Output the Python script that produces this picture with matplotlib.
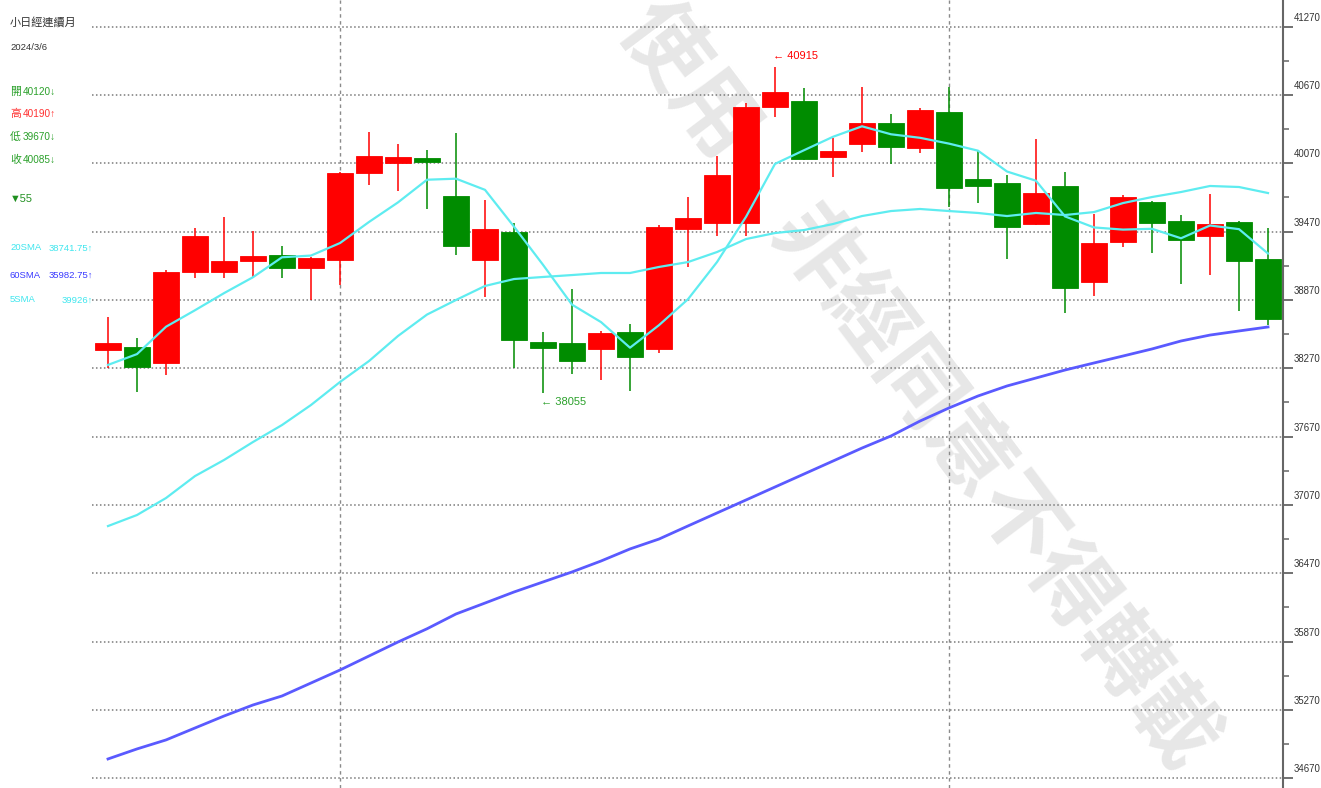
import matplotlib
matplotlib.use('Agg')
import matplotlib.pyplot as plt
import matplotlib.transforms as mtransforms
from matplotlib import font_manager
import numpy as np

# ---------------- data ----------------
opens = [38430, 38455, 38315, 39115, 39115, 39210, 39265, 39150, 39220, 39985,
         40075, 40120, 39785, 39220, 39465, 38500, 38490, 38440, 38590, 38440,
         39495, 39545, 39545, 40565, 40615, 40125, 40240, 40425, 40205, 40520,
         39930, 39895, 39535, 39870, 39030, 39380, 39730, 39565, 39430, 39555,
         39230]
highs = [38720, 38535, 39135, 39500, 39600, 39475, 39345, 39245, 39990, 40345,
         40240, 40190, 40335, 39750, 39545, 38590, 38965, 38600, 38660, 39530,
         39775, 40135, 40600, 40915, 40730, 40290, 40740, 40505, 40555, 40740,
         40180, 39965, 40285, 39995, 39625, 39790, 39735, 39615, 39800, 39560,
         39500]
lows = [38275, 38065, 38210, 39065, 39065, 39070, 39065, 38870, 39000, 39880,
        39825, 39670, 39265, 38895, 38275, 38055, 38220, 38165, 38070, 38405,
        39160, 39430, 39430, 40475, 40100, 39950, 40170, 40065, 40160, 39685,
        39720, 39230, 39530, 38755, 38905, 39335, 39280, 39010, 39090, 38775,
        38650]
closes = [38490, 38285, 39115, 39430, 39210, 39255, 39150, 39240, 39985, 40135,
          40125, 40085, 39345, 39495, 38520, 38450, 38335, 38580, 38370, 39510,
          39590, 39965, 40565, 40695, 40110, 40180, 40425, 40215, 40540, 39855,
          39870, 39510, 39810, 38975, 39370, 39775, 39545, 39395, 39535, 39210,
          38705]
sma5 = [38300, 38395, 38635, 38780, 38930, 39070, 39245, 39260, 39370, 39555,
        39727, 39926, 39935, 39837, 39514, 39179, 38829, 38676, 38451, 38649,
        38877, 39203, 39600, 40065, 40185, 40303, 40395, 40325, 40294, 40243,
        40181, 39998, 39917, 39604, 39507, 39488, 39495, 39412, 39524, 39492,
        39278]
sma20 = [36885, 36982, 37131, 37324, 37465, 37623, 37772, 37948, 38150, 38334,
         38554, 38742, 38870, 38993, 39054, 39072, 39089, 39107, 39107, 39160,
         39203, 39291, 39405, 39458, 39484, 39537, 39607, 39651, 39669, 39651,
         39634, 39607, 39634, 39616, 39642, 39721, 39774, 39818, 39871, 39862,
         39809]
sma60 = [34840, 34928, 35007, 35112, 35217, 35314, 35393, 35507, 35621, 35744,
         35867, 35983, 36113, 36209, 36306, 36394, 36482, 36578, 36684, 36771,
         36886, 37000, 37114, 37228, 37342, 37456, 37570, 37676, 37807, 37922,
         38027, 38115, 38185, 38255, 38317, 38378, 38440, 38510, 38562, 38598,
         38633]
ytick_values = [34670, 35270, 35870, 36470, 37070, 37670, 38270, 38870,
                39470, 40070, 40670, 41270]
month_breaks = [8, 29]

title = "小日經連續月"
date_label = "2024/3/6"
info_labels = ["開", "高", "低", "收"]
info_values = ["40120", "40190", "39670", "40085"]
info_arrows = ["↓", "↑", "↓", "↓"]
change_label = "▼55"
ma_names = ["20SMA", "60SMA", "5SMA"]
ma_values = ["38741.75↑", "35982.75↑", "39926↑"]
high_label = "← 40915"
low_label = "← 38055"
watermark = "使用　非經同意不得轉載"

# ---------------- fonts ----------------
available = {f.name for f in font_manager.fontManager.ttflist}
num_fam = []
for f in ["Liberation Sans Narrow", "Liberation Sans"]:
    if f in available:
        num_fam.append(f)
        break
FAM = num_fam + ["Noto Sans CJK TC", "DejaVu Sans"]
CJK = ["Noto Sans CJK TC", "DejaVu Sans"]

RED = "#ff0000"
GREEN = "#008c00"
CYAN = "#5eecf0"
BLUE = "#5a5aff"

W, H = 1321, 788
fig = plt.figure(figsize=(W / 100, H / 100), dpi=100)
fig.patch.set_facecolor("white")
ax = fig.add_axes([92 / W, 0, (1283 - 92) / W, 1])
ax.set_facecolor("white")

x = np.arange(len(opens))
ax.set_xlim(-0.552, 40.517)
ax.set_ylim(34585, 41504)

# watermark
ax.text(918 / W, 1 - 385 / H, watermark, transform=fig.transFigure,
        rotation=-53, rotation_mode="anchor", ha="center", va="center",
        fontsize=61, color="#e7e7e7", family=CJK, fontweight="bold",
        zorder=0.5)

# grid
ax.set_yticks(ytick_values)
ax.set_yticks([v + 300 for v in ytick_values[:-1]], minor=True)
ax.grid(axis="y", which="major", color="#7a7a7a", linestyle=(0, (1, 1.6)),
        linewidth=1.1, zorder=1)
for mb in month_breaks:
    ax.axvline(mb, color="#8a8a8a", linestyle=(0, (2.5, 2.5)), linewidth=1,
               zorder=1)

# candles
o = np.array(opens); c = np.array(closes)
hi = np.array(highs); lo = np.array(lows)
colors = [RED if cc >= oo else GREEN for oo, cc in zip(o, c)]
ax.vlines(x, lo, hi, colors=colors, linewidth=1.1, zorder=2)
ax.bar(x, np.abs(c - o), bottom=np.minimum(o, c), width=0.88, color=colors,
       edgecolor=colors, linewidth=0.6, zorder=3)

# moving averages
ax.plot(x, sma60, color=BLUE, linewidth=2.0, zorder=4)
ax.plot(x, sma20, color=CYAN, linewidth=1.6, zorder=4)
ax.plot(x, sma5, color=CYAN, linewidth=1.6, zorder=4)

# high / low annotations
ih = int(np.argmax(hi)); il = int(np.argmin(lo))
ax.annotate(high_label, xy=(ih, hi[ih]), xytext=(-1.5, 8), textcoords="offset points",
            ha="left", va="center", color=RED, fontsize=8, family=FAM)
ax.annotate(low_label, xy=(il, lo[il]), xytext=(-1.5, -6.5), textcoords="offset points",
            ha="left", va="center", color="#2aa02a", fontsize=8, family=FAM)

# axes styling
for s in ["top", "left", "bottom"]:
    ax.spines[s].set_visible(False)
ax.spines["right"].set_color("#666666")
ax.spines["right"].set_linewidth(1.5)
ax.yaxis.tick_right()
ax.tick_params(axis="y", which="major", length=7, width=1.3, color="#666666",
               labelright=False, labelleft=False, direction="out")
ax.tick_params(axis="y", which="minor", length=4, width=1.1, color="#666666",
               labelright=False, labelleft=False, direction="out")
ax.tick_params(axis="x", which="both", bottom=False, labelbottom=False)

trans = mtransforms.blended_transform_factory(ax.transAxes, ax.transData)
for v in ytick_values:
    ax.annotate(str(v), xy=(1, v), xycoords=trans, xytext=(7.8, 6.5),
                textcoords="offset points", ha="left", va="center",
                fontsize=6.9, color="#333333", family=FAM, annotation_clip=False)

# left info panel
def ftext(px, py, s, **kw):
    fig.text(px / W, 1 - py / H, s, va="center", family=FAM, **kw)

ftext(10, 22, title, fontsize=8, color="#333333")
ftext(10, 47, date_label, fontsize=6.8, color="#333333")
info_colors = ["#2aa02a", "#ff3030", "#2aa02a", "#2aa02a"]
ys = [92, 114, 137, 160]
for lab, val, arr, col, yy in zip(info_labels, info_values, info_arrows, info_colors, ys):
    ftext(10, yy, lab, fontsize=7.8, color=col)
    ftext(23, yy, val + arr, fontsize=7.2, color=col)
ftext(10, 199, change_label, fontsize=7.8, color="#1f8f1f")
ma_cols = ["#3ee6ee", "#3a3aff", "#3ee6ee"]
for name, val, col, yy in zip(ma_names, ma_values, ma_cols, [248, 275, 300]):
    ftext(10, yy, name, fontsize=6.8, color=col)
    fig.text(93 / W, 1 - yy / H, val, va="center", ha="right", family=FAM,
             fontsize=6.8, color=col)

fig.savefig("out.png", dpi=100, facecolor="white")
